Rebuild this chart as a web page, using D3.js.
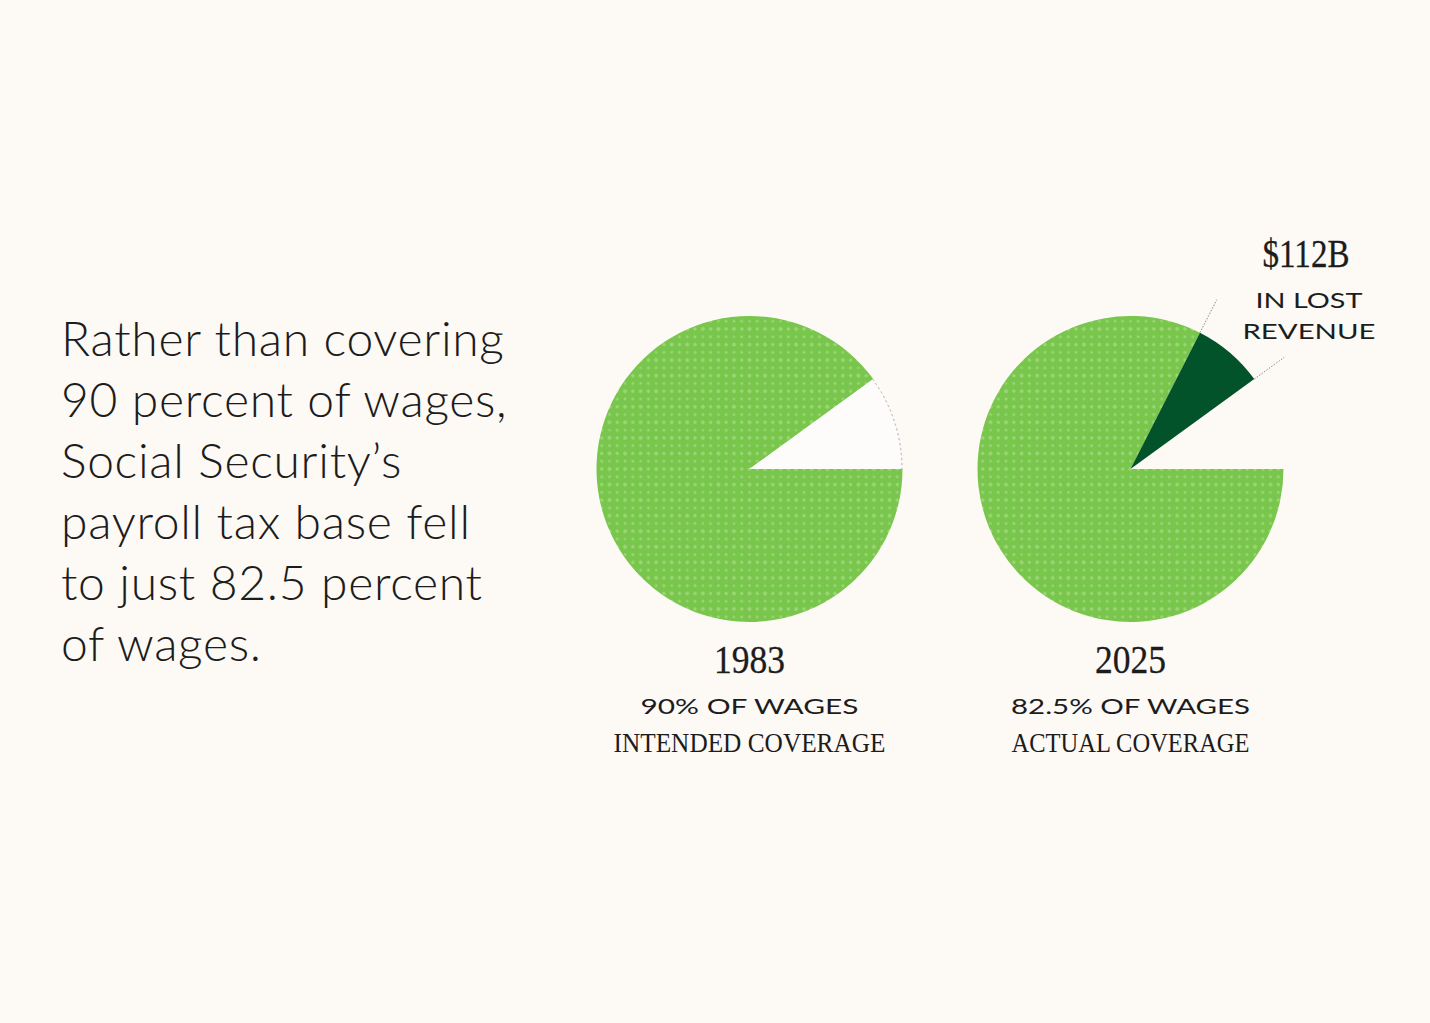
<!DOCTYPE html>
<html>
<head>
<meta charset="utf-8">
<script src="https://cdn.jsdelivr.net/npm/d3@7"></script>
<style>
  html, body { margin: 0; padding: 0; background: #fdf9f5; }
  svg { display: block; }
</style>
</head>
<body>
<svg id="chart" width="1430" height="1023"></svg>
<script>
// data
var introLines = ['Rather than covering', '90 percent of wages,', 'Social Security\u2019s',
                  'payroll tax base fell', 'to just 82.5 percent', 'of wages.'];
var years = ['1983', '2025'];
var covered = [90, 82.5];
var lost = [0, 7.5];
var uncovered = [10, 10];
var shareLabels = ['90% OF WAGES', '82.5% OF WAGES'];
var kindLabels = ['INTENDED COVERAGE', 'ACTUAL COVERAGE'];
var lostAmount = '$112B';
var lostLabel = ['IN LOST', 'REVENUE'];

var green = '#78c64b', darkGreen = '#02532a', ink = '#1c1c1c';
var radius = 153;

var svg = d3.select('#chart');

// halftone dots on the green
var defs = svg.append('defs');
var pat = defs.append('pattern')
    .attr('id', 'dots')
    .attr('patternUnits', 'userSpaceOnUse')
    .attr('width', 22).attr('height', 22)
    .attr('patternTransform', 'rotate(45)');
pat.append('rect').attr('width', 22).attr('height', 22).attr('fill', green);
[[0, 0, 1.9], [11, 0, 1.5], [22, 0, 1.9], [0, 11, 1.6], [11, 11, 2.1], [22, 11, 1.6],
 [0, 22, 1.9], [11, 22, 1.5], [22, 22, 1.9], [5.5, 5.5, 1.3], [16.5, 5.5, 1.7], [5.5, 16.5, 1.8], [16.5, 16.5, 1.4]]
  .forEach(function(d) {
    pat.append('circle').attr('cx', d[0]).attr('cy', d[1]).attr('r', d[2])
       .attr('fill', '#a9d886').attr('opacity', 0.75);
  });

// intro text
svg.append('g').selectAll('text').data(introLines).enter().append('text')
    .attr('x', 61)
    .attr('y', function(d, i) { return 356 + i * 61; })
    .style('font-family', 'Lato, sans-serif')
    .style('font-weight', 300)
    .style('font-size', '48px')
    .style('letter-spacing', '0.7px')
    .style('fill', ink)
    .text(function(d) { return d; });

var x = d3.scalePoint().domain(years).range([749.5, 1130.5]);
var pie = d3.pie().sort(null).value(function(d) { return d.v; })
    .startAngle(Math.PI / 2).endAngle(Math.PI / 2 + 2 * Math.PI);
var arc = d3.arc().innerRadius(0).outerRadius(radius);

var groups = svg.selectAll('.pie').data(years).enter().append('g')
    .attr('class', 'pie')
    .attr('transform', function(d) { return 'translate(' + x(d) + ',469)'; });

groups.each(function(year, i) {
  var g = d3.select(this);
  var slices = pie([
    { k: 'covered', v: covered[i] },
    { k: 'lost', v: lost[i] },
    { k: 'uncovered', v: uncovered[i] }
  ]);
  var hasLost = lost[i] > 0;
  g.selectAll('path.slice').data(slices.filter(function(s) {
      return s.data.v > 0 && !(hasLost && s.data.k === 'uncovered');
    }))
    .enter().append('path')
    .attr('class', 'slice')
    .attr('d', arc)
    .style('fill', function(s) {
      if (s.data.k === 'covered') return 'url(#dots)';
      if (s.data.k === 'lost') return darkGreen;
      return '#fefcfa';
    })
    .style('stroke', 'none');

  if (!hasLost) {
    // faint dotted rim on the uncovered wedge
    var gapSlice = slices[2];
    g.append('path')
      .attr('d', d3.arc().innerRadius(radius - 0.5).outerRadius(radius - 0.5)
        .startAngle(gapSlice.startAngle).endAngle(gapSlice.endAngle)())
      .style('fill', 'none')
      .style('stroke', '#c4c1bd')
      .style('stroke-width', 1)
      .style('stroke-dasharray', '2,3');
  } else {
    // leader lines for the lost slice
    var ls = slices[1];
    [ls.startAngle, ls.endAngle].forEach(function(a) {
      g.append('line')
        .attr('x1', Math.sin(a) * radius).attr('y1', -Math.cos(a) * radius)
        .attr('x2', Math.sin(a) * 190).attr('y2', -Math.cos(a) * 190)
        .style('stroke', '#8a8a8a')
        .style('stroke-width', 1)
        .style('stroke-dasharray', '1.5,1.5');
    });
  }

  g.append('text')
    .attr('y', 204)
    .attr('text-anchor', 'middle')
    .style('font-family', '"Liberation Serif", serif')
    .style('font-size', '40px')
    .style('fill', ink)
    .style('stroke', ink)
    .style('stroke-width', 0.3)
    .attr('textLength', 71)
    .attr('lengthAdjust', 'spacingAndGlyphs')
    .text(year);
  g.append('text')
    .attr('y', 245)
    .attr('text-anchor', 'middle')
    .style('font-family', 'Lato, sans-serif')
    .style('font-size', '22px')
    .style('fill', ink)
    .attr('textLength', i === 0 ? 218 : 239)
    .attr('lengthAdjust', 'spacingAndGlyphs')
    .text(shareLabels[i]);
  g.append('text')
    .attr('y', 283)
    .attr('text-anchor', 'middle')
    .style('font-family', '"Liberation Serif", serif')
    .style('font-size', '28px')
    .style('fill', ink)
    .attr('textLength', i === 0 ? 272 : 238)
    .attr('lengthAdjust', 'spacingAndGlyphs')
    .text(kindLabels[i]);
});

// annotation for the lost slice
var note = svg.append('g').attr('transform', 'translate(1306,0)');
note.append('text')
  .attr('y', 267)
  .attr('text-anchor', 'middle')
  .style('font-family', '"Liberation Serif", serif')
  .style('font-size', '39px')
  .style('fill', ink)
  .style('stroke', ink)
  .style('stroke-width', 0.3)
  .attr('textLength', 87)
  .attr('lengthAdjust', 'spacingAndGlyphs')
  .text(lostAmount);
var subWidths = [107, 133];
note.selectAll('text.sub').data(lostLabel).enter().append('text')
  .attr('class', 'sub')
  .attr('y', function(d, i) { return 308 + i * 31; })
  .attr('x', 3)
  .attr('text-anchor', 'middle')
  .style('font-family', 'Lato, sans-serif')
  .style('font-size', '22px')
  .style('fill', ink)
  .attr('textLength', function(d, i) { return subWidths[i]; })
  .attr('lengthAdjust', 'spacingAndGlyphs')
  .text(function(d) { return d; });
</script>
</body>
</html>
